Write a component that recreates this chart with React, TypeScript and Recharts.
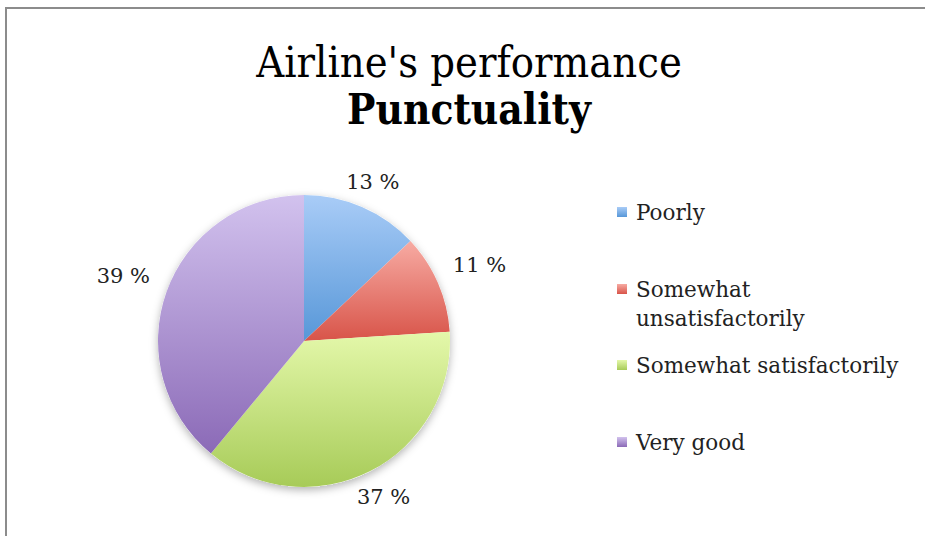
import { PieChart, Pie, Cell, Legend } from "recharts";

const categories = [
  "Poorly",
  "Somewhat unsatisfactorily",
  "Somewhat satisfactorily",
  "Very good",
];
const shares = [13, 11, 37, 39];

const pieData = categories.map((name, i) => ({ name, value: shares[i] }));
const backdrop = [{ name: "all", value: shares.reduce((a, b) => a + b, 0) }];

// light top -> darker bottom, like the office gradient fills
const gradients = [
  { id: "gPoor", top: "#a9ccf7", bottom: "#5797d8" },
  { id: "gUnsat", top: "#f7aba3", bottom: "#d85449" },
  { id: "gSat", top: "#e4f8aa", bottom: "#a7cb58" },
  { id: "gGood", top: "#d2c2ee", bottom: "#8b6ab7" },
];

const serif = "'DejaVu Serif', serif";
const RADIAN = Math.PI / 180;

const renderLabel = (props: any) => {
  const { cx, cy, midAngle, outerRadius, value } = props;
  const cos = Math.cos(-midAngle * RADIAN);
  const sin = Math.sin(-midAngle * RADIAN);
  const d = outerRadius + 14 + 34 * Math.abs(cos);
  const x = cx + d * cos;
  const y = cy + d * sin;
  return (
    <text
      x={x}
      y={y}
      textAnchor="middle"
      dominantBaseline="central"
      fontFamily={serif}
      fontSize={21}
      fill="#222"
    >
      {`${value} %`}
    </text>
  );
};

const LegendBox = () => (
  <div style={{ fontFamily: serif, fontSize: 21.5, color: "#222" }}>
    {categories.map((name, i) => (
      <div
        key={name}
        style={{ display: "flex", alignItems: "flex-start", height: 76.5 }}
      >
        <div
          style={{
            width: 10,
            height: 10,
            marginTop: 9,
            marginRight: 9,
            flexShrink: 0,
            background: `linear-gradient(${gradients[i].top}, ${gradients[i].bottom})`,
          }}
        />
        <div style={{ width: 272, lineHeight: "29px" }}>{name}</div>
      </div>
    ))}
  </div>
);

export default function App() {
  return (
    <div
      style={{
        position: "fixed",
        left: 0,
        top: 0,
        width: 925,
        height: 536,
        background: "#fff",
        overflow: "hidden",
      }}
    >
      <div
        style={{
          position: "absolute",
          left: 5,
          top: 7,
          width: 940,
          height: 560,
          border: "2px solid #8c8c8c",
        }}
      />
      <div
        style={{
          position: "absolute",
          left: 0,
          width: 938,
          top: 38,
          textAlign: "center",
          fontFamily: "'DejaVu Serif Condensed', 'DejaVu Serif', serif",
          fontSize: 43,
          lineHeight: "48px",
          color: "#000",
        }}
      >
        <div>Airline's performance</div>
        <div style={{ fontWeight: "bold", fontSize: 42 }}>Punctuality</div>
      </div>
      <div style={{ position: "absolute", left: 0, top: 0 }}>
        <PieChart
          width={925}
          height={536}
          margin={{ top: 0, right: 0, bottom: 0, left: 0 }}
        >
          <defs>
            <filter id="pieShadow" x="-20%" y="-20%" width="140%" height="140%">
              <feDropShadow dx="0" dy="3" stdDeviation="4" floodColor="#000" floodOpacity="0.3" />
            </filter>
            {gradients.map((g) => (
              <linearGradient key={g.id} id={g.id} x1="0" y1="0" x2="0" y2="1">
                <stop offset="0%" stopColor={g.top} />
                <stop offset="100%" stopColor={g.bottom} />
              </linearGradient>
            ))}
          </defs>
          <Pie
            data={backdrop}
            dataKey="value"
            cx={304}
            cy={341}
            outerRadius={146}
            startAngle={90}
            endAngle={-270}
            stroke="none"
            isAnimationActive={false}
            legendType="none"
          >
            <Cell fill="#fff" filter="url(#pieShadow)" />
          </Pie>
          <Pie
            data={pieData}
            dataKey="value"
            nameKey="name"
            cx={304}
            cy={341}
            outerRadius={146}
            startAngle={90}
            endAngle={-270}
            stroke="none"
            labelLine={false}
            label={renderLabel}
            isAnimationActive={false}
          >
            {pieData.map((entry, i) => (
              <Cell key={entry.name} fill={`url(#${gradients[i].id})`} />
            ))}
          </Pie>
          <Legend
            layout="vertical"
            content={<LegendBox />}
            wrapperStyle={{ position: "absolute", left: 617, top: 198, width: 300 }}
          />
        </PieChart>
      </div>
    </div>
  );
}
